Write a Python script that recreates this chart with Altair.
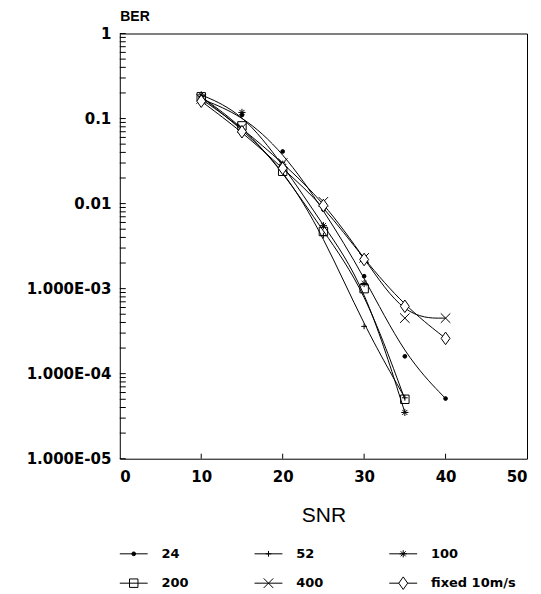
import altair as alt
import pandas as pd

# ---- data ----
snr = [10, 15, 20, 25, 30, 35, 40]
series_names = ["24", "52", "100", "200", "400", "fixed 10m/s"]
ber_24 = [0.17, 0.11, 0.041, 0.0085, 0.0014, 0.00016, 0.000051]
ber_52 = [0.18, 0.075, 0.026, 0.0042, 0.00036, 0.000052]
ber_100 = [0.19, 0.118, 0.029, 0.0055, 0.00115, 0.000035]
ber_200 = [0.18, 0.082, 0.024, 0.0047, 0.001, 0.00005]
ber_400 = [0.17, 0.078, 0.030, 0.0105, 0.0023, 0.00045, 0.00045]
ber_fixed = [0.16, 0.07, 0.026, 0.0095, 0.0022, 0.00062, 0.00026]

x_ticks = [0, 10, 20, 30, 40, 50]
y_decades = [1e-5, 1e-4, 1e-3, 1e-2, 1e-1, 1]
y_labels = ["1.000E-05", "1.000E-04", "1.000E-03", "0.01", "0.1", "1"]
y_minor = [m * 10.0 ** e for e in range(-5, 0) for m in range(1, 10)] + [1.0]

legend_col = [0, 1, 2, 0, 1, 2]
legend_row = [0, 0, 0, 1, 1, 1]

all_series = [ber_24, ber_52, ber_100, ber_200, ber_400, ber_fixed]
rows = []
for name, vals in zip(series_names, all_series):
    for s, v in zip(snr, vals):
        rows.append({"series": name, "snr": s, "ber": v})
df = pd.DataFrame(rows)

leg = pd.DataFrame({"series": series_names, "col": legend_col, "row": legend_row})

# ---- styling ----
shape_range = [
    "circle",
    "M-1,0L1,0M0,-1L0,1",
    "M-1,0L1,0M0,-1L0,1M-0.7,-0.7L0.7,0.7M-0.7,0.7L0.7,-0.7",
    "square",
    "M-1,-1L1,1M-1,1L1,-1",
    "M0,-1.2L0.85,0L0,1.2L-0.85,0Z",
]
size_range = [14, 110, 110, 80, 70, 90]
fill_range = ["black", "transparent", "transparent", "transparent", "transparent", "white"]

shape_enc = alt.Shape("series:N", scale=alt.Scale(domain=series_names, range=shape_range), legend=None)
size_enc = alt.Size("series:N", scale=alt.Scale(domain=series_names, range=size_range), legend=None)
fill_enc = alt.Fill("series:N", scale=alt.Scale(domain=series_names, range=fill_range), legend=None)

W, H = 408, 426
FONT = "DejaVu Sans"

xscale = alt.Scale(domain=[0, 50], nice=False, zero=False)
yscale = alt.Scale(type="log", domain=[1e-5, 1], nice=False)

label_expr = "[" + ",".join("'" + l + "'" for l in y_labels) + "][round(log(datum.value)/LN10)+5]"

x_axis = alt.Axis(
    values=x_ticks, ticks=False, tickSize=0, grid=False, domain=False,
    labelFont=FONT, labelFontWeight="bold", labelFontSize=15, labelPadding=11,
    labelColor="black", title="SNR", titleFont="Liberation Sans", titleFontSize=21,
    titleFontWeight="normal", titlePadding=20, titleColor="black")
y_axis = alt.Axis(
    values=y_decades, ticks=False, tickSize=0, grid=False, domain=False,
    labelExpr=label_expr, labelFont=FONT, labelFontWeight="bold", labelFontSize=15,
    labelPadding=9, labelColor="black", minExtent=106, maxExtent=106,
    title="BER", titleAngle=0, titleX=0, titleY=-10, titleAlign="left",
    titleBaseline="bottom", titleFont="Liberation Sans", titleFontSize=14,
    titleFontWeight="bold", titleColor="black")

lines = alt.Chart(df).mark_line(interpolate="basis", color="black", strokeWidth=1).encode(
    x=alt.X("snr:Q", scale=xscale, axis=x_axis),
    y=alt.Y("ber:Q", scale=yscale, axis=y_axis),
    detail="series:N",
)

points = alt.Chart(df).mark_point(filled=False, color="black", strokeWidth=1, opacity=1).encode(
    x=alt.X("snr:Q", scale=xscale, axis=x_axis),
    y=alt.Y("ber:Q", scale=yscale, axis=y_axis),
    shape=shape_enc, size=size_enc, fill=fill_enc,
)

yt = alt.Chart(pd.DataFrame({"snr": [0] * len(y_minor), "ber": y_minor})).mark_rule(
    color="black", strokeWidth=1).encode(
    y=alt.Y("ber:Q", scale=yscale, axis=y_axis),
    x=alt.value(0), x2=alt.value(6),
)

xt = alt.Chart(pd.DataFrame({"snr": x_ticks[1:-1]})).mark_rule(color="black", strokeWidth=1).encode(
    x=alt.X("snr:Q", scale=xscale, axis=x_axis),
    y=alt.value(H), y2=alt.value(H - 5),
)

main = alt.layer(lines, points, yt, xt).properties(
    width=W, height=H, view=alt.ViewBackground(stroke="black", strokeWidth=1)
)

lx = alt.Scale(domain=[0, 3], nice=False, zero=False)
ly = alt.Scale(domain=[-0.35, 1.35], nice=False, zero=False, reverse=True)

base_leg = alt.Chart(leg).transform_calculate(
    x0="datum.col", x1="datum.col + 0.207", xm="datum.col + 0.1035", xt="datum.col + 0.31"
)
leg_rule = base_leg.mark_rule(color="black", strokeWidth=1).encode(
    x=alt.X("x0:Q", scale=lx, axis=None), x2="x1:Q",
    y=alt.Y("row:Q", scale=ly, axis=None),
)
leg_pts = base_leg.mark_point(filled=False, color="black", strokeWidth=1, opacity=1).encode(
    x=alt.X("xm:Q", scale=lx, axis=None),
    y=alt.Y("row:Q", scale=ly, axis=None),
    shape=shape_enc, size=size_enc, fill=fill_enc,
)
leg_txt = base_leg.mark_text(align="left", baseline="middle", font=FONT, fontWeight="bold",
                             fontSize=13, color="black").encode(
    x=alt.X("xt:Q", scale=lx, axis=None),
    y=alt.Y("row:Q", scale=ly, axis=None),
    text="series:N",
)
legend_chart = alt.layer(leg_rule, leg_pts, leg_txt).properties(
    width=405, height=50, view=alt.ViewBackground(stroke="transparent")
)

chart = alt.vconcat(main, legend_chart, spacing=16).properties(
    padding={"top": 0, "left": 5, "right": 5, "bottom": 5}
).configure(background="white")

chart.save("out.html", embed_options={"renderer": "svg", "actions": False})
